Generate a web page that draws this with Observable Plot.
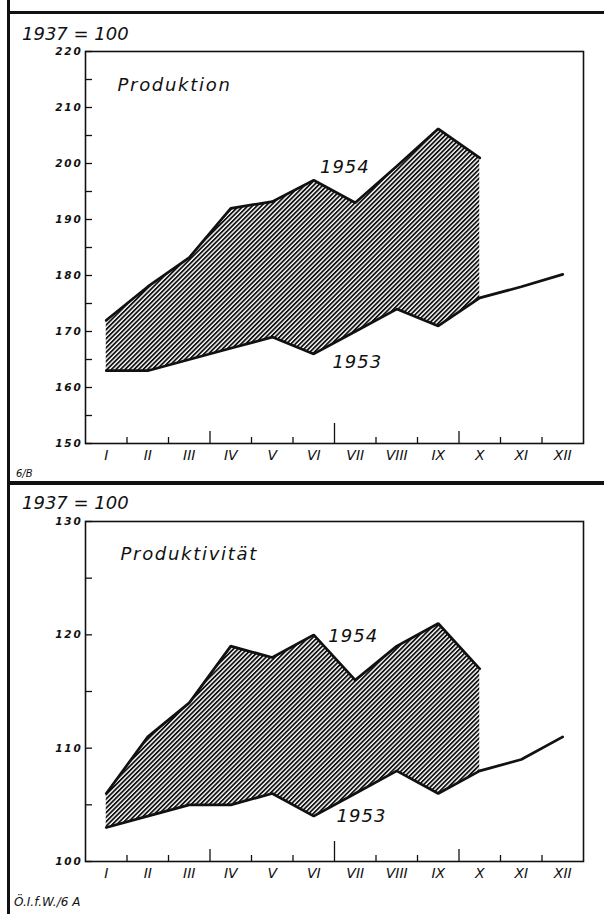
<!DOCTYPE html>
<html><head><meta charset="utf-8">
<script src="https://cdn.jsdelivr.net/npm/d3@7"></script>
<script src="https://cdn.jsdelivr.net/npm/@observablehq/plot@0.6"></script>
<style>
body{margin:0;background:#fff;}
#page{position:relative;width:604px;height:914px;overflow:hidden;background:#fff;font-family:"DejaVu Sans",sans-serif;font-style:italic;color:#111;}
.lbl{position:absolute;white-space:nowrap;line-height:1;}
.chart{position:absolute;left:0;}
.bar{position:absolute;background:#111;}
.ttl text{letter-spacing:1.7px;}
.ylab text{letter-spacing:1.8px;}
.yrs text{letter-spacing:1px;}
</style></head><body><div id="page">
<div id="top" class="chart" style="top:0"></div>
<div id="bottom" class="chart" style="top:483px"></div>
<div class="bar" style="left:7px;top:0;width:3px;height:914px"></div>
<div class="bar" style="left:7px;top:11px;width:597px;height:3px"></div>
<div class="bar" style="left:7px;top:481px;width:597px;height:4px"></div>
<div class="lbl" style="left:22px;top:25px;font-size:18px;">1937 = 100</div>
<div class="lbl" style="left:16px;top:469px;font-size:10px;">6/B</div>
<div class="lbl" style="left:22px;top:494px;font-size:18px;">1937 = 100</div>
<div class="lbl" style="left:14px;top:896px;font-size:12px;">Ö.I.f.W./6 A</div>
</div>
<script>
// Months (x positions 1..12)
const months = ["I","II","III","IV","V","VI","VII","VIII","IX","X","XI","XII"];
const monthNum = [1,2,3,4,5,6,7,8,9,10,11,12];
// Production, 1937 = 100
const prod1953 = [163,163,165,167,169,166,170,174,171,176,178,180.2];
const prod1954 = [172,178,183.2,192,193.2,197,193,199.5,206.2,201];
const prodMajor = [150,160,170,180,190,200,210,220];
const prodMinor = [155,165,175,185,195,205,215];
// Productivity, 1937 = 100
const pv1953 = [103,104,105,105,106,104,106,108,106,108,109,111];
const pv1954 = [106,111,114,119,118,120,116,119,121,117];
const pvMajor = [100,110,120,130];
const pvMinor = [105,115,125];
// month boundary ticks (short, quarter, half-year)
const bShort = [1.5,2.5,4.5,5.5,7.5,8.5,10.5,11.5];
const bQuarter = [3.5,9.5];
const bHalf = [6.5];
// annotation positions [x, y]
const prodLab54 = [6.75,199.4], prodLab53 = [7.05,164.6];
const pvLab54 = [6.95,119.9], pvLab53 = [7.15,104.0];

function addHatch(svg, id){
  const defs = d3.select(svg).insert("defs", ":first-child");
  const p = defs.append("pattern").attr("id", id).attr("patternUnits","userSpaceOnUse")
    .attr("width", 3.2).attr("height", 10).attr("patternTransform","rotate(45)");
  p.append("rect").attr("width",3.2).attr("height",10).attr("fill","#fff");
  p.append("line").attr("x1",0.9).attr("y1",0).attr("x2",0.9).attr("y2",10)
    .attr("stroke","#111").attr("stroke-width",1.8);
}

function makeChart({v53, v54, major, minor, domain, title, lab54, lab53, height, marginTop, marginBottom, id, titleDx, titleDy}){
  const area = v54.map((b,i)=>({m: monthNum[i], a: v53[i], b}));
  const l54 = v54.map((v,i)=>({m: monthNum[i], v}));
  const l53 = v53.map((v,i)=>({m: monthNum[i], v}));
  const ink = "#111";
  const svg = Plot.plot({
    width: 604, height, marginLeft: 85, marginRight: 21, marginTop, marginBottom,
    style: {fontFamily: "DejaVu Sans, sans-serif", fontStyle: "italic", background: "transparent", color: ink},
    x: {domain: [0.5, 12.5]},
    y: {domain},
    marks: [
      Plot.areaY(area, {x: "m", y1: "a", y2: "b", fill: `url(#${id})`}),
      Plot.line(l54, {x: "m", y: "v", stroke: ink, strokeWidth: 2.7, strokeLinejoin: "miter"}),
      Plot.line(l53, {x: "m", y: "v", stroke: ink, strokeWidth: 2.7, strokeLinejoin: "miter"}),
      Plot.frame({stroke: ink, strokeWidth: 1.6}),
      Plot.axisY({ticks: major, tickSize: 0, tickPadding: 3, tickFormat: d => String(d), fontSize: 10.5, fontWeight: "bold", className: "ylab"}),
      Plot.axisY({ticks: [...major, ...minor], tickSize: -7, tickFormat: () => "", strokeWidth: 1.3}),
      Plot.axisX({ticks: monthNum, tickSize: 0, tickPadding: 7, tickFormat: d => months[d-1], fontSize: 14}),
      Plot.axisX({ticks: bShort, tickSize: -6, tickFormat: () => "", strokeWidth: 1.3}),
      Plot.axisX({ticks: bQuarter, tickSize: -12, tickFormat: () => "", strokeWidth: 1.3}),
      Plot.axisX({ticks: bHalf, tickSize: -20, tickFormat: () => "", strokeWidth: 1.3}),
      Plot.text([title], {frameAnchor: "top-left", dx: titleDx, dy: titleDy, text: d => d, fontSize: 18, textAnchor: "start", fill: ink, className: "ttl"}),
      Plot.text([{x: lab54[0], y: lab54[1], t: "1954"}, {x: lab53[0], y: lab53[1], t: "1953"}], {x: "x", y: "y", text: "t", fontSize: 18, fill: ink, className: "yrs"})
    ]
  });
  addHatch(svg, id);
  return svg;
}

document.getElementById("top").append(makeChart({
  v53: prod1953, v54: prod1954, major: prodMajor, minor: prodMinor, domain: [150,220],
  title: "Produktion", lab54: prodLab54, lab53: prodLab53, height: 480, marginTop: 51, marginBottom: 37,
  id: "hatchA", titleDx: 32, titleDy: 27
}));
document.getElementById("bottom").append(makeChart({
  v53: pv1953, v54: pv1954, major: pvMajor, minor: pvMinor, domain: [100,130],
  title: "Produktivität", lab54: pvLab54, lab53: pvLab53, height: 431, marginTop: 38, marginBottom: 53,
  id: "hatchB", titleDx: 35, titleDy: 25.5
}));
</script>
</body></html>
